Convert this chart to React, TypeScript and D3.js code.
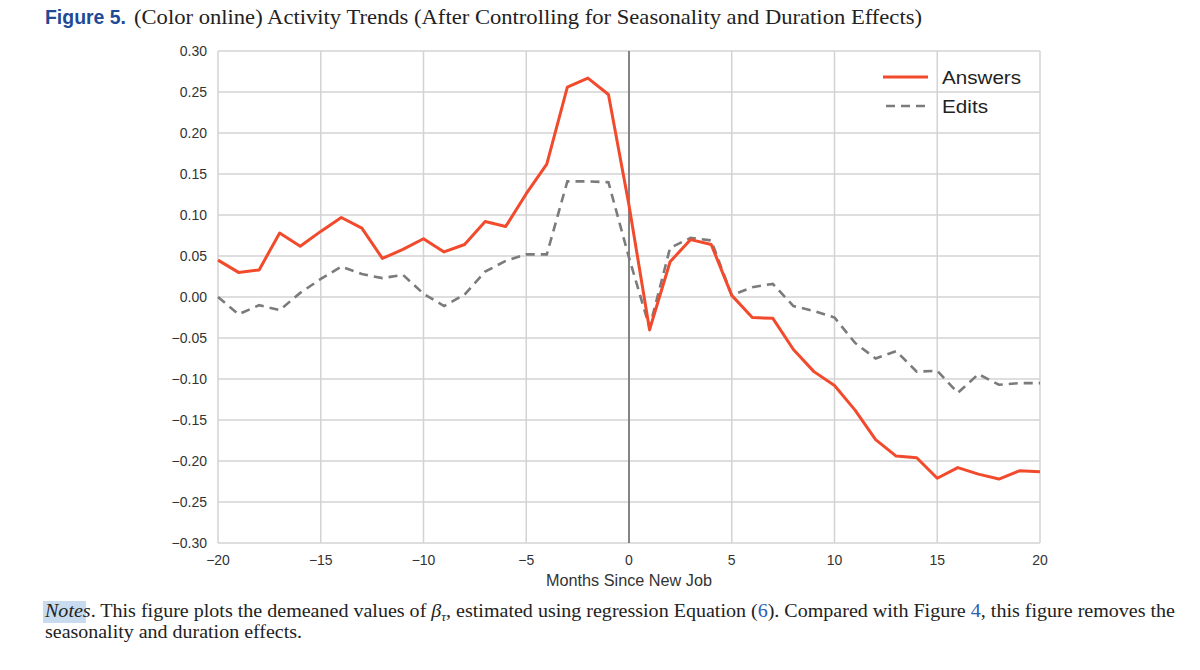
import React from "react";
import * as d3 from "d3";

const months: number[] = d3.range(-20, 21);

const answers: number[] = [
  0.045, 0.030, 0.033, 0.078, 0.062, 0.080, 0.097, 0.084, 0.047, 0.058,
  0.071, 0.055, 0.064, 0.092, 0.086, 0.126, 0.162, 0.256, 0.267, 0.247,
  0.112,
  -0.040, 0.043, 0.070, 0.064, 0.002, -0.025, -0.026, -0.064, -0.091, -0.108,
  -0.138, -0.174, -0.194, -0.196, -0.221, -0.208, -0.216, -0.222, -0.212, -0.213,
];

const edits: number[] = [
  0.000, -0.021, -0.010, -0.016, 0.005, 0.022, 0.037, 0.028, 0.023, 0.027,
  0.004, -0.011, 0.003, 0.031, 0.044, 0.052, 0.052, 0.141, 0.141, 0.140,
  0.048,
  -0.037, 0.060, 0.072, 0.069, 0.002, 0.012, 0.016, -0.011, -0.017, -0.025,
  -0.056, -0.075, -0.066, -0.091, -0.090, -0.117, -0.094, -0.107, -0.105, -0.105,
];

const yTicks: number[] = [0.3, 0.25, 0.2, 0.15, 0.1, 0.05, 0, -0.05, -0.1, -0.15, -0.2, -0.25, -0.3];
const xTicks: number[] = [-20, -15, -10, -5, 0, 5, 10, 15, 20];

const seriesNames = ["Answers", "Edits"];

const RED = "#f24a2c";
const GRAY = "#7b7b7b";
const GRID = "#d3d3d3";

const fmtY = (v: number) => {
  const s = Math.abs(v).toFixed(2);
  return v < -1e-9 ? "\u2212" + s : s;
};
const fmtX = (v: number) => (v < 0 ? "\u2212" + Math.abs(v) : String(v));

export default function App() {
  const x = d3.scaleLinear().domain([-20, 20]).range([218, 1040]);
  const y = d3.scaleLinear().domain([-0.3, 0.3]).range([543, 51]);

  const line = d3
    .line<number>()
    .x((_, i) => x(months[i]))
    .y((d) => y(d));

  const sans = "'Liberation Sans', Arial, sans-serif";
  const serif = "'Liberation Serif', 'Times New Roman', serif";

  return (
    <svg
      width={1200}
      height={670}
      style={{ position: "absolute", left: 0, top: 0, background: "#fff" }}
    >
      <rect x={0} y={0} width={1200} height={670} fill="#fff" />
      {/* Title */}
      <text x={45} y={24} fontFamily={sans} fontSize={21} fontWeight="bold" fill="#1e4a96" textLength={81} lengthAdjust="spacingAndGlyphs">
        Figure 5.
      </text>
      <text x={134} y={24} fontFamily={serif} fontSize={21.5} fill="#222" textLength={788} lengthAdjust="spacingAndGlyphs">
        (Color online) Activity Trends (After Controlling for Seasonality and Duration Effects)
      </text>

      {/* Grid */}
      {yTicks.map((t) => (
        <line key={"gy" + t} x1={x(-20)} x2={x(20)} y1={y(t)} y2={y(t)} stroke={GRID} strokeWidth={1.5} />
      ))}
      {xTicks.map((t) => (
        <line key={"gx" + t} x1={x(t)} x2={x(t)} y1={y(-0.3)} y2={y(0.3)} stroke={GRID} strokeWidth={1.5} />
      ))}
      {/* zero vertical */}
      <line x1={x(0)} x2={x(0)} y1={y(-0.3)} y2={y(0.3)} stroke="#6e6e6e" strokeWidth={1.6} />

      {/* Y tick labels */}
      {yTicks.map((t) => (
        <text key={"ly" + t} x={207} y={y(t) + 4.5} textAnchor="end" fontFamily={sans} fontSize={14} fill="#333">
          {fmtY(t)}
        </text>
      ))}
      {/* X tick labels */}
      {xTicks.map((t) => (
        <text key={"lx" + t} x={x(t)} y={565} textAnchor="middle" fontFamily={sans} fontSize={14} fill="#333">
          {fmtX(t)}
        </text>
      ))}
      <text x={x(0)} y={586} textAnchor="middle" fontFamily={sans} fontSize={16} fill="#333" textLength={166} lengthAdjust="spacingAndGlyphs">
        Months Since New Job
      </text>

      {/* Lines */}
      <path d={line(edits) || ""} fill="none" stroke={GRAY} strokeWidth={2.6} strokeDasharray="9,6" />
      <path d={line(answers) || ""} fill="none" stroke={RED} strokeWidth={3} strokeLinejoin="round" />

      {/* Legend */}
      <line x1={883} x2={928} y1={77} y2={77} stroke={RED} strokeWidth={3} />
      <text x={942} y={84} fontFamily={sans} fontSize={19} fill="#222" textLength={79} lengthAdjust="spacingAndGlyphs">{seriesNames[0]}</text>
      <line x1={886} x2={928} y1={106} y2={106} stroke={GRAY} strokeWidth={2.6} strokeDasharray="9,6" />
      <text x={942} y={113} fontFamily={sans} fontSize={19} fill="#222" textLength={46} lengthAdjust="spacingAndGlyphs">{seriesNames[1]}</text>

      {/* Notes */}
      <rect x={43} y={601} width={43} height={22} fill="#c9dbee" />
      <text x={45} y={617} fontFamily={serif} fontSize={18} fill="#222" textLength={1130} lengthAdjust="spacingAndGlyphs">
        <tspan fontStyle="italic">Notes</tspan>
        <tspan>. This figure plots the demeaned values of </tspan>
        <tspan fontStyle="italic">β</tspan>
        <tspan fontStyle="italic" fontSize={12} dy={4}>τ</tspan>
        <tspan dy={-4}>, estimated using regression Equation (</tspan>
        <tspan fill="#2a5db0">6</tspan>
        <tspan>). Compared with Figure </tspan>
        <tspan fill="#2a5db0">4</tspan>
        <tspan>, this figure removes the</tspan>
      </text>
      <text x={45} y={638} fontFamily={serif} fontSize={18} fill="#222" textLength={257} lengthAdjust="spacingAndGlyphs">
        seasonality and duration effects.
      </text>
    </svg>
  );
}
